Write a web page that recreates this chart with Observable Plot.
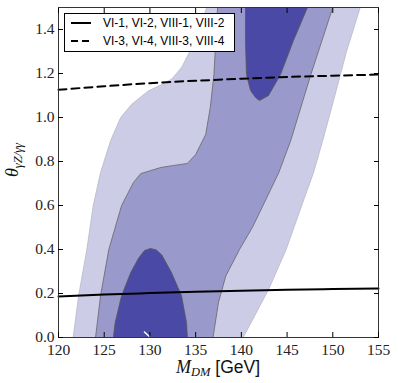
<!DOCTYPE html>
<html>
<head>
<meta charset="utf-8">
<script src="https://cdn.jsdelivr.net/npm/d3@7"></script>
<script src="https://cdn.jsdelivr.net/npm/@observablehq/plot@0.6"></script>
<style>
  html, body { margin: 0; padding: 0; background: #fff; }
  #chart { width: 398px; height: 383px; }
</style>
</head>
<body>
<div id="chart"></div>
<script>
// ---- data ----
const xTicks = [120, 125, 130, 135, 140, 145, 150, 155];
const yTicks = [0.0, 0.2, 0.4, 0.6, 0.8, 1.0, 1.2, 1.4];

// outer (lightest) confidence region: [M_DM, theta]
const regionOuter = [
  [121.6,0],[122.2,0.19],[123.1,0.40],[123.8,0.60],[124.6,0.75],[125.7,0.895],[126.8,1.0],
  [128.0,1.06],[129.8,1.12],[131.3,1.15],[132.4,1.175],[133.5,1.23],[134.6,1.32],[135.5,1.41],[136.2,1.5],
  [153.0,1.5],[151.5,1.30],[150.1,1.08],[148.9,0.895],[147.9,0.75],[146.6,0.60],[144.9,0.40],[143.0,0.22],[140.2,0]
];
// middle region
const regionMiddle = [
  [124.05,0],[124.6,0.19],[125.5,0.40],[126.9,0.60],[128.2,0.705],[129.0,0.745],[131.2,0.773],[132.6,0.782],
  [134.1,0.791],[135.0,0.832],[136.1,0.923],[136.6,1.045],[137.0,1.195],[137.2,1.35],[137.4,1.5],
  [150.0,1.5],[147.6,1.195],[145.4,0.895],[144.1,0.75],[142.6,0.62],[141.2,0.50],[139.8,0.40],[138.3,0.28],
  [137.5,0.16],[137.2,0.08],[136.9,0]
];
// inner (darkest) regions
const regionInnerLow = [
  [126.0,0],[126.2,0.068],[126.9,0.19],[127.9,0.295],[128.75,0.36],[129.4,0.395],[130.06,0.405],[130.7,0.398],
  [131.3,0.375],[132.36,0.295],[133.45,0.19],[134.0,0.068],[134.1,0]
];
const regionInnerHigh = [
  [140.45,1.5],[140.45,1.35],[140.56,1.195],[141.0,1.123],[141.55,1.091],[141.98,1.077],[142.97,1.10],
  [144.28,1.195],[145.7,1.35],[147.23,1.5]
];
// white artefact near the bottom of the low inner region
const artefact = [[129.4,0.025],[130.0,0.002]];

// benchmark curves
const curveX = [120, 125, 130, 135, 140, 145, 150, 155];
const solidY = [0.186, 0.195, 0.202, 0.208, 0.213, 0.217, 0.220, 0.223];
const dashedY = [1.126, 1.142, 1.156, 1.167, 1.176, 1.184, 1.190, 1.195];

const legendLabels = ["VI-1, VI-2, VIII-1, VIII-2", "VI-3, VI-4, VIII-3, VIII-4"];

const colLight = "#ccccE6", colMid = "#9999CC", colDark = "#4A4AA6";

const toPts = arr => arr.map(([x, y]) => ({x, y}));
const solid = curveX.map((x, i) => ({x, y: solidY[i]}));
const dashed = curveX.map((x, i) => ({x, y: dashedY[i]}));

const serif = "Liberation Serif, Times New Roman, serif";
const sans = "Liberation Sans, Arial, sans-serif";
const noLabel = () => "";

const plot = Plot.plot({
  width: 398,
  height: 383,
  marginLeft: 58,
  marginRight: 20,
  marginTop: 7,
  marginBottom: 46,
  style: {background: "#fff", overflow: "visible"},
  x: {domain: [120, 155]},
  y: {domain: [0, 1.5]},
  marks: [
    Plot.line(toPts(regionOuter), {x: "x", y: "y", fill: colLight, stroke: "#b8b8c8", strokeWidth: 0.8}),
    Plot.line(toPts(regionMiddle), {x: "x", y: "y", fill: colMid, stroke: "#666", strokeWidth: 0.8}),
    Plot.line(toPts(regionInnerLow), {x: "x", y: "y", fill: colDark, stroke: "#555", strokeWidth: 0.8}),
    Plot.line(toPts(regionInnerHigh), {x: "x", y: "y", fill: colDark, stroke: "#555", strokeWidth: 0.8}),
    Plot.line(toPts(artefact), {x: "x", y: "y", stroke: "#fff", strokeWidth: 1.5}),
    Plot.line(solid, {x: "x", y: "y", stroke: "#000", strokeWidth: 2, curve: "monotone-x"}),
    Plot.line(dashed, {x: "x", y: "y", stroke: "#000", strokeWidth: 2, strokeDasharray: "8,5", curve: "monotone-x"}),
    Plot.frame({stroke: "#333", strokeWidth: 1}),
    // inward ticks on all four sides
    Plot.axisX({anchor: "bottom", ticks: xTicks, tickSize: -5, label: null, tickFormat: noLabel}),
    Plot.axisX({anchor: "top", ticks: xTicks, tickSize: -5, label: null, tickFormat: noLabel}),
    Plot.axisY({anchor: "left", ticks: yTicks, tickSize: -5, label: null, tickFormat: noLabel}),
    Plot.axisY({anchor: "right", ticks: yTicks, tickSize: -5, label: null, tickFormat: noLabel}),
    // serif tick labels
    Plot.text(xTicks, {x: d => d, frameAnchor: "bottom", lineAnchor: "top", dy: 6,
      text: d => String(d), fontFamily: serif, fontSize: 15.5, fill: "#222"}),
    Plot.text(yTicks, {y: d => d, frameAnchor: "left", textAnchor: "end", dx: -4,
      text: d => d3.format(".1f")(d), fontFamily: serif, fontSize: 15.5, fill: "#222"})
  ]
});

document.getElementById("chart").appendChild(plot);

const svg = d3.select(plot);

// ---- axis titles and legend as real SVG text ----
const xl = svg.append("text")
  .attr("x", 218).attr("y", 373)
  .attr("text-anchor", "middle")
  .attr("fill", "#111");
xl.append("tspan").attr("font-family", serif).attr("font-style", "italic").attr("font-size", "18px").text("M");
xl.append("tspan").attr("font-family", serif).attr("font-style", "italic").attr("font-size", "12.5px").attr("dy", 3).text("DM");
xl.append("tspan").attr("font-family", sans).attr("font-size", "17.5px").attr("dy", -3).text("\u00a0[GeV]");

const yl = svg.append("text")
  .attr("transform", "translate(18,160) rotate(-90)")
  .attr("text-anchor", "middle")
  .attr("fill", "#111");
yl.append("tspan").attr("font-family", serif).attr("font-style", "italic").attr("font-size", "18px").text("\u03b8");
yl.append("tspan").attr("font-family", serif).attr("font-style", "italic").attr("font-size", "12.5px").attr("dy", 3.5).text("\u03b3Z/\u03b3\u03b3");

const lg = svg.append("g").attr("text-anchor", "start");
lg.append("rect").attr("x", 64.5).attr("y", 13.5).attr("width", 170).attr("height", 38)
  .attr("fill", "#fff").attr("stroke", "#000").attr("stroke-width", 1);
const rows = [23, 41];
legendLabels.forEach((lab, i) => {
  lg.append("line").attr("x1", 71).attr("x2", 91).attr("y1", rows[i]).attr("y2", rows[i])
    .attr("stroke", "#000").attr("stroke-width", 2)
    .attr("stroke-dasharray", i === 1 ? "7,4" : null);
  lg.append("text").attr("x", 103).attr("y", rows[i]).attr("dy", "0.35em")
    .attr("text-anchor", "start")
    .attr("font-family", sans).attr("font-size", "12px").attr("fill", "#000").text(lab);
});
</script>
</body>
</html>
